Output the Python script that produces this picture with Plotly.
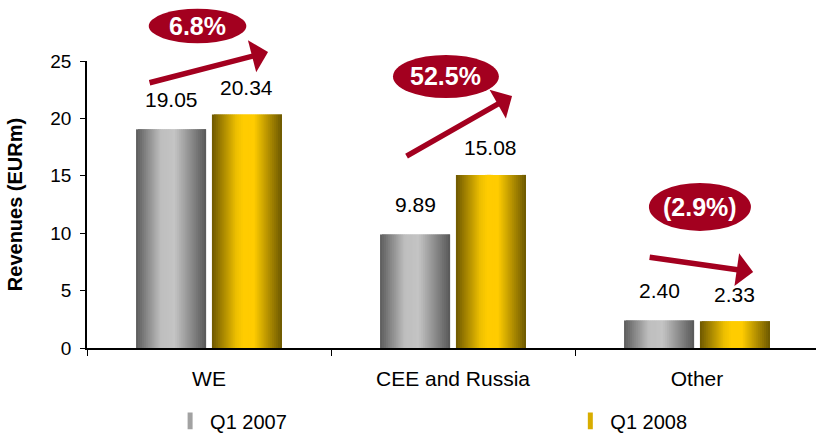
import plotly.graph_objects as go

categories = ["WE", "CEE and Russia", "Other"]
series_names = ["Q1 2007", "Q1 2008"]
q1_2007 = [19.05, 9.89, 2.40]
q1_2008 = [20.34, 15.08, 2.33]
value_labels_2007 = ["19.05", "9.89", "2.40"]
value_labels_2008 = ["20.34", "15.08", "2.33"]
growth_labels = ["6.8%", "52.5%", "(2.9%)"]
y_ticks = [0, 5, 10, 15, 20, 25]

FONT = "Liberation Sans, Arial, sans-serif"
RED = "#a3001f"

# gradient stops (position, rgb) across each bar, left to right
gray_stops = [(0.0, (92, 92, 92)), (0.35, (190, 190, 190)), (0.55, (196, 196, 196)), (1.0, (88, 88, 88))]
gold_stops = [(0.0, (110, 88, 0)), (0.35, (238, 192, 0)), (0.45, (255, 204, 0)), (0.6, (255, 204, 0)), (1.0, (108, 88, 0))]
legend_colors = ["#a2a2a2", "#d8ad00"]


def interp(stops, t):
    for (p0, c0), (p1, c1) in zip(stops[:-1], stops[1:]):
        if p0 <= t <= p1:
            f = 0 if p1 == p0 else (t - p0) / (p1 - p0)
            c = [round(a + (b - a) * f) for a, b in zip(c0, c1)]
            return "rgb(%d,%d,%d)" % tuple(c)
    c = stops[-1][1]
    return "rgb(%d,%d,%d)" % c


BAR_W = 0.287
GAP = 0.012
N = 36

fig = go.Figure()
for k, (vals, name, stops, start) in enumerate([
    (q1_2007, series_names[0], gray_stops, -GAP - BAR_W),
    (q1_2008, series_names[1], gold_stops, GAP),
]):
    sw = BAR_W / N
    for i in range(N):
        t = (i + 0.5) / N
        w = sw if i == N - 1 else sw * 2
        fig.add_trace(go.Bar(
            x=categories, y=vals,
            offset=start + i * sw, width=w,
            marker=dict(color=interp(stops, t), line=dict(width=0)),
            name=name, legendgroup=name, showlegend=False,
            hoverinfo="skip",
        ))
    # legend proxy (narrow upright swatch like the original)
    fig.add_trace(go.Scatter(
        x=[None], y=[None], mode="markers", name=name, legendgroup=name,
        legend="legend" if k == 0 else "legend2",
        marker=dict(symbol="line-ns", size=12, line=dict(width=8, color=legend_colors[k])),
    ))

annotations = []
# value labels
for i in range(len(categories)):
    annotations.append(dict(x=i - GAP - BAR_W / 2, y=q1_2007[i], xref="x", yref="y",
                            text=value_labels_2007[i], showarrow=False, yshift=30,
                            font=dict(size=21, color="black", family=FONT)))
    annotations.append(dict(x=i + GAP + BAR_W / 2, y=q1_2008[i], xref="x", yref="y",
                            text=value_labels_2008[i], showarrow=False, yshift=27,
                            font=dict(size=21, color="black", family=FONT)))

# growth ellipses (x in category units, y in paper units)
ellipses = [(-0.047, 0.40, 1.062, 1.182), (0.971, 0.434, 0.871, 1.021), (2.012, 0.418, 0.408, 0.575)]
shapes = []
for (cx, w, y0, y1), lab in zip(ellipses, growth_labels):
    shapes.append(dict(type="circle", xref="x", yref="paper", x0=cx - w / 2, x1=cx + w / 2,
                       y0=y0, y1=y1, fillcolor=RED, line=dict(width=0), layer="above"))
    annotations.append(dict(x=cx, y=(y0 + y1) / 2, xref="x", yref="paper", text="<b>%s</b>" % lab,
                            showarrow=False, yanchor="middle",
                            font=dict(size=25, color="white", family=FONT)))

# arrows: tip position + tail offset in px
arrows = [(0.242, 1.031, -120, 31), (1.242, 0.878, -107, 61), (2.230, 0.265, -105, -15)]
for x, y, ax, ay in arrows:
    annotations.append(dict(x=x, y=y, xref="x", yref="paper", ax=ax, ay=ay, text="",
                            showarrow=True, arrowhead=1, arrowsize=1.0, arrowwidth=5.5,
                            arrowcolor=RED, standoff=0))

legend_common = dict(orientation="h", y=-0.254, xanchor="left", yanchor="middle",
                     font=dict(size=20, family=FONT), bgcolor="rgba(0,0,0,0)")

fig.update_layout(
    width=816, height=435,
    margin=dict(l=87, r=0, t=61, b=87, autoexpand=False),
    paper_bgcolor="white", plot_bgcolor="white",
    barmode="overlay",
    font=dict(family=FONT, size=18, color="black"),
    shapes=shapes,
    annotations=annotations,
    legend=dict(x=0.114, **legend_common),
    legend2=dict(x=0.663, **legend_common),
    xaxis=dict(type="category", categoryorder="array", categoryarray=categories,
               range=[-0.5, -0.5 + 729 / 244], showline=True, linecolor="black", linewidth=1.5,
               ticks="outside", tickson="boundaries", ticklen=6, tickcolor="black",
               showgrid=False, tickfont=dict(size=21, family=FONT), ticklabelstandoff=11),
    yaxis=dict(range=[0, 25], tickvals=y_ticks, showline=True, linecolor="black", linewidth=1.5,
               ticks="outside", ticklen=5, tickcolor="black", showgrid=False, zeroline=False,
               tickfont=dict(size=19, family=FONT), ticklabelstandoff=5,
               title=dict(text="<b>Revenues (EURm)</b>", font=dict(size=20, family=FONT), standoff=22)),
)

fig.write_html("out.html", config={"displayModeBar": False},
               post_script="document.body.style.margin='0';document.body.style.overflow='hidden';")
